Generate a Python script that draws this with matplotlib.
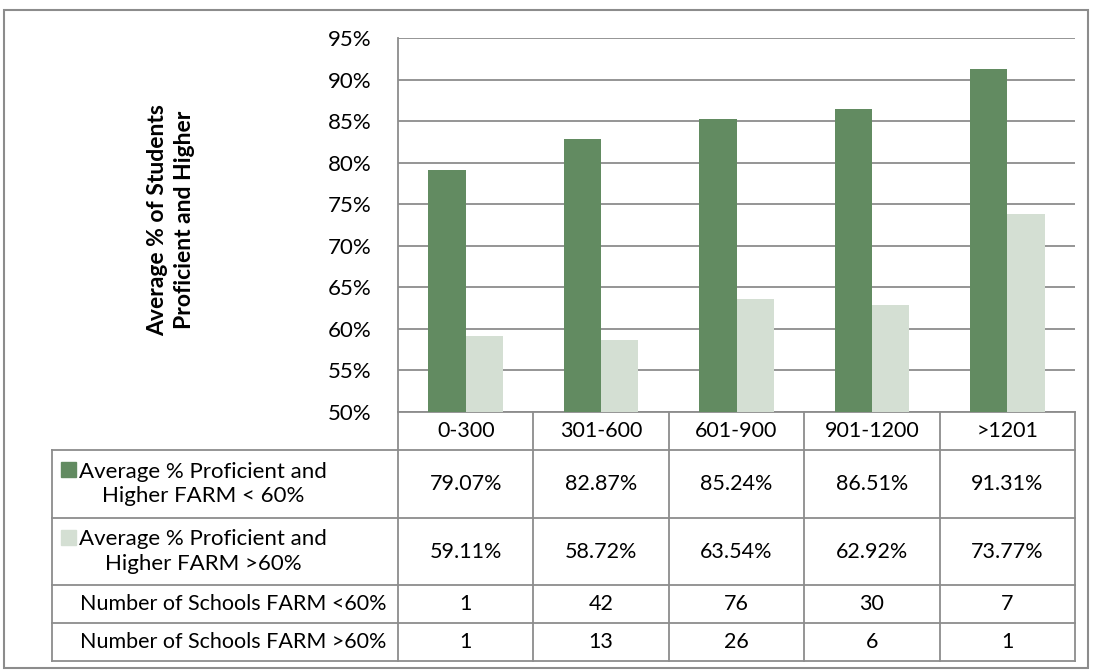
import numpy as np
import matplotlib.pyplot as plt
from matplotlib.patches import Rectangle

plt.rcParams['font.family'] = ['Lato', 'DejaVu Sans']

groups = ['0-300', '301-600', '601-900', '901-1200', '>1201']
farm_low = [79.07, 82.87, 85.24, 86.51, 91.31]
farm_high = [59.11, 58.72, 63.54, 62.92, 73.77]
schools_low = [1, 42, 76, 30, 7]
schools_high = [1, 13, 26, 6, 1]
series_names = ['Average % Proficient and\nHigher FARM < 60%',
                'Average % Proficient and\nHigher FARM >60%']
count_names = ['Number of Schools FARM <60%', 'Number of Schools FARM >60%']
yticks = [50, 55, 60, 65, 70, 75, 80, 85, 90, 95]

dark = '#628b61'
light = '#d4dfd3'
grid = '#8c8c8c'

W, H = 1094, 671
fig = plt.figure(figsize=(W / 100, H / 100), dpi=100)

# pixel-space overlay for the frame and the data table
ov = fig.add_axes([0, 0, 1, 1])
ov.set_xlim(0, W)
ov.set_ylim(H, 0)
ov.axis('off')

x0, x1, ytop, ybot = 398, 1075, 38, 412
ax = fig.add_axes([x0 / W, 1 - ybot / H, (x1 - x0) / W, (ybot - ytop) / H])
x = np.arange(len(groups))
bw = 0.275
ax.bar(x - bw / 2, farm_low, bw, color=dark, zorder=3)
ax.bar(x + bw / 2, farm_high, bw, color=light, zorder=3)
ax.set_xlim(-0.5, len(groups) - 0.5)
ax.set_ylim(50, 95)
ax.set_yticks(yticks)
ax.set_yticklabels([f'{t}%' for t in yticks], fontsize=16)
ax.tick_params(axis='y', length=0, pad=19)
ax.set_xticks([])
ax.grid(axis='y', color=grid, lw=1.3, zorder=0)
for s in ['top', 'right', 'bottom']:
    ax.spines[s].set_visible(False)
ax.spines['left'].set_color(grid)
ax.spines['left'].set_linewidth(1.3)
ax.patch.set_alpha(0)

ov.text(171, 220, 'Average % of Students\nProficient and Higher', rotation=90,
        ha='center', va='center', fontsize=16.5, fontweight='bold',
        linespacing=1.3)

# outer frame
ov.add_patch(Rectangle((4, 10), 1084, 658, fill=False, ec=grid, lw=1.5))

# data table
col_w = (x1 - x0) / len(groups)
rows = [412, 450, 518, 585, 623, 661]
tl = dict(color=grid, lw=1.3)
for k, yy in enumerate(rows):
    ov.plot([x0 if k == 0 else 52, x1], [yy, yy], **tl)
for i in range(len(groups) + 1):
    ov.plot([x0 + i * col_w] * 2, [rows[0], rows[-1]], **tl)
ov.plot([52, 52], [rows[1], rows[-1]], **tl)

fs = 15.5
for i, g in enumerate(groups):
    cx = x0 + (i + 0.5) * col_w
    ov.text(cx, (rows[0] + rows[1]) / 2, g, ha='center', va='center', fontsize=fs)
    ov.text(cx, (rows[1] + rows[2]) / 2, f'{farm_low[i]:.2f}%', ha='center', va='center', fontsize=fs)
    ov.text(cx, (rows[2] + rows[3]) / 2, f'{farm_high[i]:.2f}%', ha='center', va='center', fontsize=fs)
    ov.text(cx, (rows[3] + rows[4]) / 2, str(schools_low[i]), ha='center', va='center', fontsize=fs)
    ov.text(cx, (rows[4] + rows[5]) / 2, str(schools_high[i]), ha='center', va='center', fontsize=fs)

for k, (name, c) in enumerate(zip(series_names, [dark, light])):
    ya, yb = rows[k + 1], rows[k + 2]
    ov.add_patch(Rectangle((61, ya + 12), 15, 15, color=c))
    ov.text(203, (ya + yb) / 2, name, ha='center', va='center', fontsize=16,
            multialignment='center', linespacing=1.3)
for k, name in enumerate(count_names):
    ya, yb = rows[k + 3], rows[k + 4]
    ov.text(80, (ya + yb) / 2, name, ha='left', va='center', fontsize=fs)

fig.savefig('out.png', dpi=100)
